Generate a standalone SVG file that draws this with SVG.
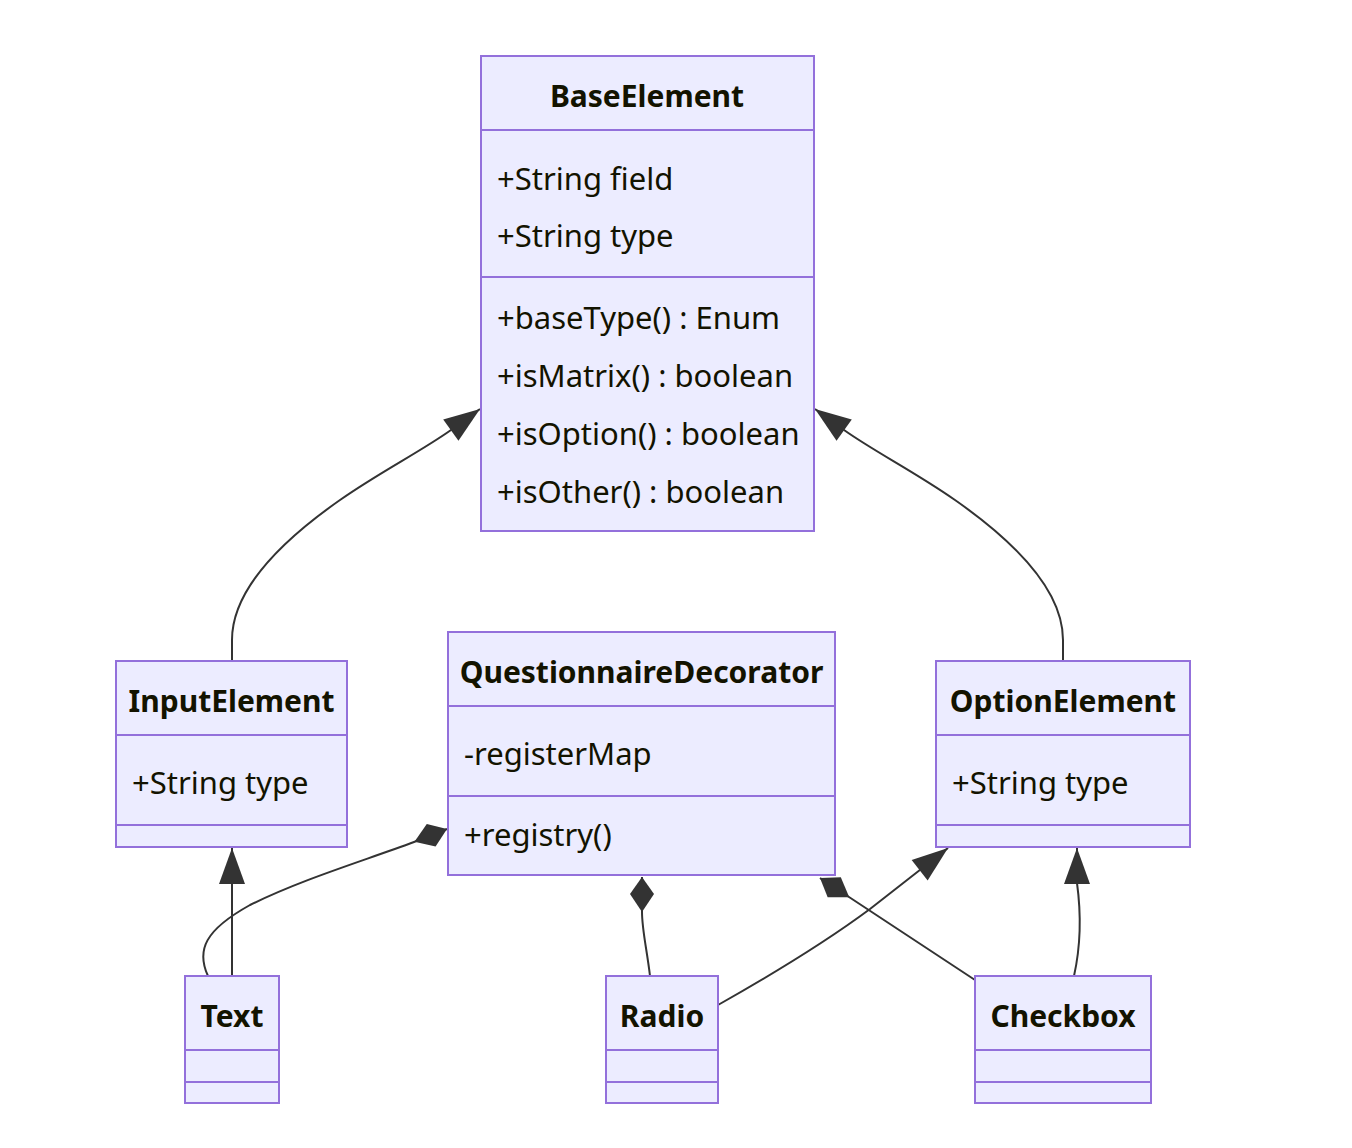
<svg xmlns="http://www.w3.org/2000/svg" width="1352" height="1148" viewBox="0 0 1352 1148">
<style>
.box{fill:#ECECFF;stroke:#9370DB;stroke-width:2}
.div{stroke:#9370DB;stroke-width:2}
.t{font-family:"Noto Sans","DejaVu Sans",sans-serif;font-size:31px;fill:#131300}
.b{font-weight:bold;text-anchor:middle;font-size:30px}
.e{fill:none;stroke:#333333;stroke-width:2}
</style>
<defs>
<marker id="ext" markerUnits="userSpaceOnUse" viewBox="0 0 40 30" refX="38" refY="15" markerWidth="40" markerHeight="30" orient="auto">
<path d="M2,2 L38,15 L2,28 Z" fill="#333333"/>
</marker>
<marker id="comp" markerUnits="userSpaceOnUse" viewBox="0 0 40 30" refX="2" refY="15" markerWidth="40" markerHeight="30" orient="auto">
<path d="M2,15 L19,3 L37,15 L19,27 Z" fill="#333333"/>
</marker>
</defs>
<rect width="1352" height="1148" fill="#ffffff"/>
<g id="edges">
<path class="e" d="M232,661 L232,640 C232,585 290,535 340,500 C380,472 420,452 451,430 L480,409" marker-end="url(#ext)"/>
<path class="e" d="M1063,661 L1063,640 C1063,585 1005,535 955,500 C915,472 875,452 844,430 L815,409" marker-end="url(#ext)"/>
<path class="e" d="M232,976 L232,848" marker-end="url(#ext)"/>
<path class="e" d="M447,829 L414,842 C360,862 300,880 250,905 C205,930 196,950 208,976" marker-start="url(#comp)"/>
<path class="e" d="M642,877 L642,912 C642,930 647,950 650,976" marker-start="url(#comp)"/>
<path class="e" d="M820,878 L849,897 L975,980" marker-start="url(#comp)"/>
<path class="e" d="M718,1005 C780,970 835,935 870,909 L948,848" marker-end="url(#ext)"/>
<path class="e" d="M1074,976 C1082,940 1080,905 1077,883 L1077,848" marker-end="url(#ext)"/>
</g>
<g id="BaseElement">
<rect class="box" x="481" y="56" width="333" height="475"/>
<line class="div" x1="481" y1="130" x2="814" y2="130"/>
<line class="div" x1="481" y1="277" x2="814" y2="277"/>
<text class="t b" x="647" y="107">BaseElement</text>
<text class="t" x="497" y="190">+String field</text>
<text class="t" x="497" y="247">+String type</text>
<text class="t" x="497" y="329">+baseType() : Enum</text>
<text class="t" x="497" y="387">+isMatrix() : boolean</text>
<text class="t" x="497" y="445">+isOption() : boolean</text>
<text class="t" x="497" y="503">+isOther() : boolean</text>
</g>
<g id="InputElement">
<rect class="box" x="116" y="661" width="231" height="186"/>
<line class="div" x1="116" y1="735" x2="347" y2="735"/>
<line class="div" x1="116" y1="825" x2="347" y2="825"/>
<text class="t b" x="231.5" y="712">InputElement</text>
<text class="t" x="132" y="794">+String type</text>
</g>
<g id="QuestionnaireDecorator">
<rect class="box" x="448" y="632" width="387" height="243"/>
<line class="div" x1="448" y1="706" x2="835" y2="706"/>
<line class="div" x1="448" y1="796" x2="835" y2="796"/>
<text class="t b" x="641.5" y="683">QuestionnaireDecorator</text>
<text class="t" x="464" y="765">-registerMap</text>
<text class="t" x="464" y="846">+registry()</text>
</g>
<g id="OptionElement">
<rect class="box" x="936" y="661" width="254" height="186"/>
<line class="div" x1="936" y1="735" x2="1190" y2="735"/>
<line class="div" x1="936" y1="825" x2="1190" y2="825"/>
<text class="t b" x="1063" y="712">OptionElement</text>
<text class="t" x="952" y="794">+String type</text>
</g>
<g id="Text">
<rect class="box" x="185" y="976" width="94" height="127"/>
<line class="div" x1="185" y1="1050" x2="279" y2="1050"/>
<line class="div" x1="185" y1="1082" x2="279" y2="1082"/>
<text class="t b" x="232" y="1027">Text</text>
</g>
<g id="Radio">
<rect class="box" x="606" y="976" width="112" height="127"/>
<line class="div" x1="606" y1="1050" x2="718" y2="1050"/>
<line class="div" x1="606" y1="1082" x2="718" y2="1082"/>
<text class="t b" x="662" y="1027">Radio</text>
</g>
<g id="Checkbox">
<rect class="box" x="975" y="976" width="176" height="127"/>
<line class="div" x1="975" y1="1050" x2="1151" y2="1050"/>
<line class="div" x1="975" y1="1082" x2="1151" y2="1082"/>
<text class="t b" x="1063" y="1027">Checkbox</text>
</g>
</svg>
